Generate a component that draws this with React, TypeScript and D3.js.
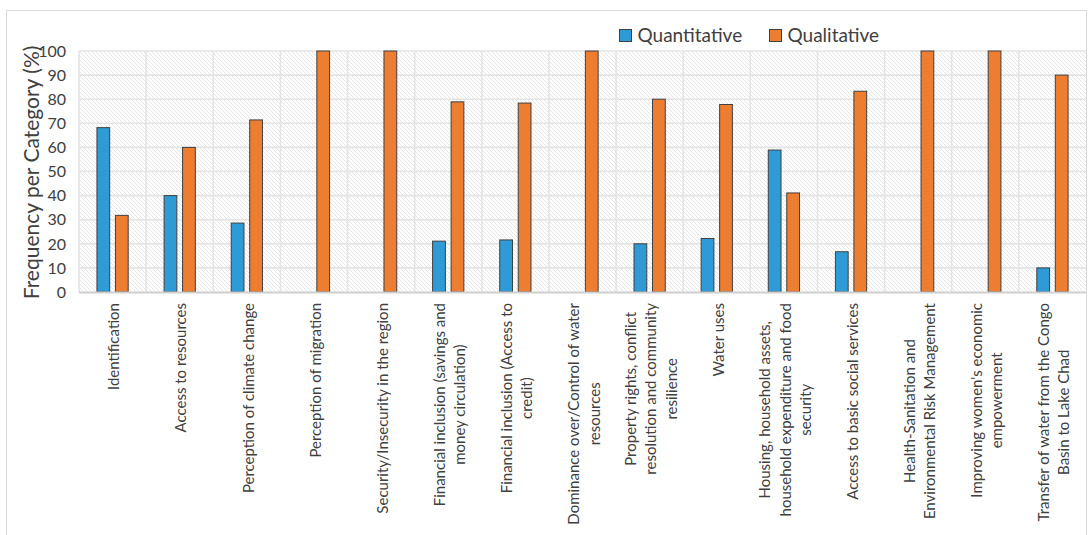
import React, { useEffect, useRef } from "react";
import * as d3 from "d3";

// Categories (each entry is a list of wrapped label lines)
const categories: string[][] = [
  ["Identification"],
  ["Access to resources"],
  ["Perception of climate change"],
  ["Perception of migration"],
  ["Security/Insecurity in the region"],
  ["Financial inclusion (savings and", "money circulation)"],
  ["Financial inclusion (Access to", "credit)"],
  ["Dominance over/Control of water", "resources"],
  ["Property rights, conflict", "resolution and community", "resilience"],
  ["Water uses"],
  ["Housing, household assets,", "household expenditure and food", "security"],
  ["Access to basic social services"],
  ["Health-Sanitation and", "Environmental Risk Management"],
  ["Improving women's economic", "empowerment"],
  ["Transfer of water from the Congo", "Basin to Lake Chad"],
];

const seriesNames = ["Quantitative", "Qualitative"];
const quantitative = [68.2, 40, 28.6, 0, 0, 21.1, 21.6, 0, 20, 22.2, 58.9, 16.7, 0, 0, 10];
const qualitative = [31.8, 60, 71.4, 100, 100, 78.9, 78.4, 100, 80, 77.8, 41.1, 83.3, 100, 100, 90];
const yTicks = [0, 10, 20, 30, 40, 50, 60, 70, 80, 90, 100];
const seriesColors = ["#2E9BD7", "#ED7D31"];

const W = 1090;
const H = 535;
const FONT = "Lato, 'Noto Sans', sans-serif";

export default function App() {
  const ref = useRef<SVGSVGElement | null>(null);

  useEffect(() => {
    const svg = d3.select(ref.current);
    svg.selectAll("*").remove();

    const plot = { left: 79, right: 1086, top: 51, bottom: 292 };

    const x = d3
      .scaleBand<number>()
      .domain(d3.range(categories.length))
      .range([plot.left, plot.right])
      .paddingInner(0)
      .paddingOuter(0);

    const xs = d3
      .scaleBand<number>()
      .domain([0, 1])
      .range([0, x.step()])
      .paddingInner(0.31)
      .paddingOuter(0.97);

    const y = d3.scaleLinear().domain([0, 100]).range([plot.bottom, plot.top]);

    // hatch pattern for plot background
    const defs = svg.append("defs");
    const pat = defs
      .append("pattern")
      .attr("id", "hatch")
      .attr("patternUnits", "userSpaceOnUse")
      .attr("width", 4)
      .attr("height", 4);
    pat.append("rect").attr("width", 4).attr("height", 4).attr("fill", "#ffffff");
    pat
      .append("path")
      .attr("d", "M-1,-1 L5,5 M-1,3 L1,5 M3,-1 L5,1")
      .attr("stroke", "#e6e6e6")
      .attr("stroke-width", 1);

    // outer frame
    svg
      .append("rect")
      .attr("x", 6.5)
      .attr("y", 10.5)
      .attr("width", 1080)
      .attr("height", 600)
      .attr("fill", "#ffffff")
      .attr("stroke", "#d9d9d9")
      .attr("stroke-width", 1);

    // plot background
    svg
      .append("rect")
      .attr("x", plot.left)
      .attr("y", plot.top)
      .attr("width", plot.right - plot.left)
      .attr("height", plot.bottom - plot.top)
      .attr("fill", "url(#hatch)");

    // horizontal gridlines
    svg
      .append("g")
      .selectAll("line")
      .data(yTicks.filter((t) => t > 0))
      .join("line")
      .attr("x1", plot.left)
      .attr("x2", plot.right)
      .attr("y1", (d) => y(d))
      .attr("y2", (d) => y(d))
      .attr("stroke", "#e4e4e4")
      .attr("stroke-width", 1.6);

    // vertical gridlines at category boundaries
    svg
      .append("g")
      .selectAll("line")
      .data(d3.range(categories.length))
      .join("line")
      .attr("x1", (d) => x(d)!)
      .attr("x2", (d) => x(d)!)
      .attr("y1", plot.top)
      .attr("y2", plot.bottom)
      .attr("stroke", "#e4e4e4")
      .attr("stroke-width", 1.6);

    // bars
    const seriesValues = [quantitative, qualitative];
    seriesValues.forEach((vals, si) => {
      svg
        .append("g")
        .selectAll("rect")
        .data(vals.map((v, i) => ({ v, i })).filter((d) => d.v > 0))
        .join("rect")
        .attr("x", (d) => x(d.i)! + xs(si)!)
        .attr("width", xs.bandwidth())
        .attr("y", (d) => y(d.v))
        .attr("height", (d) => y(0) - y(d.v))
        .attr("fill", seriesColors[si])
        .attr("stroke", "#404040")
        .attr("stroke-width", 1);
    });

    // x axis baseline
    svg
      .append("line")
      .attr("x1", plot.left)
      .attr("x2", plot.right)
      .attr("y1", plot.bottom + 0.5)
      .attr("y2", plot.bottom + 0.5)
      .attr("stroke", "#d0d0d0")
      .attr("stroke-width", 2);

    // y tick labels
    svg
      .append("g")
      .selectAll("text")
      .data(yTicks)
      .join("text")
      .attr("x", 66)
      .attr("y", (d) => y(d))
      .attr("dy", "0.36em")
      .attr("text-anchor", "end")
      .attr("font-family", FONT)
      .attr("font-size", 16)
      .attr("fill", "#404040")
      .text((d) => String(d));

    // y axis title
    svg
      .append("text")
      .attr("transform", `translate(32,${(plot.top + plot.bottom) / 2 + 1}) rotate(-90)`)
      .attr("dy", "0.35em")
      .attr("text-anchor", "middle")
      .attr("font-family", FONT)
      .attr("font-size", 21)
      .attr("fill", "#404040")
      .text("Frequency per Category (%)");

    // category labels, rotated, wrapped lines centered against each other
    const lineH = 20.5;
    const labelTop = 303;
    categories.forEach((lines, i) => {
      const cx = x(i)! + x.bandwidth() / 2 + 1.5;
      const g = svg.append("g");
      const texts = lines.map((ln) =>
        g
          .append("text")
          .attr("font-family", FONT)
          .attr("font-size", 15)
          .attr("fill", "#404040")
          .attr("text-anchor", "middle")
          .text(ln)
      );
      const maxLen = d3.max(texts, (t) => (t.node() as SVGTextElement).getComputedTextLength()) || 0;
      const cy = labelTop + maxLen / 2;
      texts.forEach((t, li) => {
        const lx = cx + (li - (lines.length - 1) / 2) * lineH;
        t.attr("transform", `translate(${lx},${cy}) rotate(-90)`).attr("dy", "0.35em");
      });
    });

    // legend
    const legendItems = [
      { name: seriesNames[0], x: 619, color: seriesColors[0] },
      { name: seriesNames[1], x: 769, color: seriesColors[1] },
    ];
    const lg = svg.append("g");
    legendItems.forEach((it) => {
      lg.append("rect")
        .attr("x", it.x + 0.5)
        .attr("y", 29.5)
        .attr("width", 12)
        .attr("height", 12)
        .attr("fill", it.color)
        .attr("stroke", "#404040")
        .attr("stroke-width", 1);
      lg.append("text")
        .attr("x", it.x + 18.5)
        .attr("y", 35.5)
        .attr("dy", "0.35em")
        .attr("font-family", FONT)
        .attr("font-size", 19)
        .attr("fill", "#404040")
        .text(it.name);
    });
  }, []);

  return (
    <svg
      ref={ref}
      width={W}
      height={H}
      style={{ position: "absolute", left: 0, top: 0, display: "block" }}
    />
  );
}
